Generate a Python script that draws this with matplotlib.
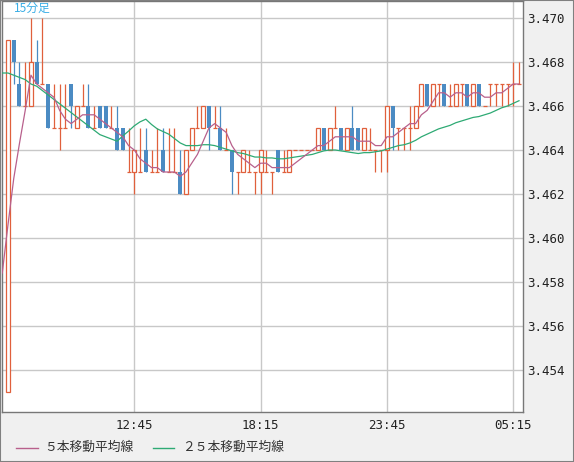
import numpy as np
import pandas as pd
import matplotlib
matplotlib.use('Agg')
import matplotlib.pyplot as plt
from matplotlib.lines import Line2D
from matplotlib.patches import Rectangle

# 15-minute bars, first bar 07:15
opens = [3.453, 3.469, 3.467, 3.466, 3.466, 3.468, 3.467, 3.467, 3.465, 3.465,
         3.465, 3.467, 3.465, 3.466, 3.466, 3.465, 3.466, 3.466, 3.465, 3.465,
         3.465, 3.463, 3.463, 3.463, 3.464, 3.463, 3.463, 3.464, 3.463, 3.463,
         3.463, 3.462, 3.464, 3.465, 3.465, 3.466, 3.465, 3.465, 3.464, 3.464,
         3.463, 3.463, 3.463, 3.463, 3.463, 3.463, 3.463, 3.464, 3.463, 3.463,
         3.464, 3.464, 3.464, 3.464, 3.464, 3.465, 3.464, 3.465, 3.465, 3.464,
         3.465, 3.465, 3.464, 3.464, 3.464, 3.464, 3.464, 3.466, 3.465, 3.465,
         3.465, 3.465, 3.466, 3.467, 3.466, 3.467, 3.467, 3.466, 3.466, 3.467,
         3.467, 3.466, 3.467, 3.466, 3.467, 3.467, 3.467, 3.467, 3.467, 3.467]
highs = [3.469, 3.469, 3.468, 3.468, 3.470, 3.469, 3.470, 3.467, 3.467, 3.467,
         3.467, 3.467, 3.466, 3.467, 3.467, 3.466, 3.466, 3.466, 3.466, 3.466,
         3.465, 3.465, 3.464, 3.465, 3.465, 3.464, 3.465, 3.465, 3.465, 3.465,
         3.464, 3.464, 3.465, 3.466, 3.466, 3.466, 3.466, 3.466, 3.465, 3.464,
         3.463, 3.464, 3.464, 3.463, 3.464, 3.464, 3.463, 3.464, 3.464, 3.464,
         3.464, 3.464, 3.464, 3.464, 3.465, 3.465, 3.465, 3.466, 3.465, 3.465,
         3.466, 3.465, 3.465, 3.465, 3.464, 3.464, 3.466, 3.466, 3.465, 3.465,
         3.466, 3.466, 3.467, 3.467, 3.467, 3.467, 3.467, 3.467, 3.467, 3.467,
         3.467, 3.467, 3.467, 3.466, 3.467, 3.467, 3.467, 3.467, 3.468, 3.468]
lows = [3.453, 3.467, 3.466, 3.466, 3.466, 3.467, 3.467, 3.465, 3.465, 3.464,
        3.465, 3.465, 3.465, 3.466, 3.465, 3.465, 3.465, 3.465, 3.465, 3.464,
        3.464, 3.463, 3.462, 3.463, 3.463, 3.463, 3.463, 3.463, 3.463, 3.463,
        3.462, 3.462, 3.464, 3.465, 3.465, 3.464, 3.465, 3.464, 3.464, 3.462,
        3.462, 3.463, 3.463, 3.462, 3.462, 3.463, 3.462, 3.463, 3.463, 3.463,
        3.464, 3.464, 3.464, 3.464, 3.464, 3.464, 3.464, 3.465, 3.464, 3.464,
        3.464, 3.464, 3.464, 3.464, 3.463, 3.463, 3.463, 3.464, 3.464, 3.464,
        3.464, 3.465, 3.466, 3.466, 3.466, 3.466, 3.466, 3.466, 3.466, 3.466,
        3.466, 3.466, 3.466, 3.466, 3.466, 3.466, 3.466, 3.466, 3.466, 3.467]
closes = [3.469, 3.468, 3.466, 3.466, 3.468, 3.467, 3.467, 3.465, 3.465, 3.465,
          3.465, 3.466, 3.466, 3.466, 3.465, 3.465, 3.465, 3.465, 3.465, 3.464,
          3.464, 3.463, 3.464, 3.463, 3.463, 3.463, 3.463, 3.463, 3.463, 3.463,
          3.462, 3.464, 3.465, 3.465, 3.466, 3.465, 3.465, 3.464, 3.464, 3.463,
          3.463, 3.464, 3.463, 3.463, 3.464, 3.463, 3.463, 3.463, 3.463, 3.464,
          3.464, 3.464, 3.464, 3.464, 3.465, 3.464, 3.465, 3.465, 3.464, 3.465,
          3.464, 3.464, 3.465, 3.464, 3.464, 3.464, 3.466, 3.465, 3.465, 3.465,
          3.465, 3.466, 3.467, 3.466, 3.467, 3.467, 3.466, 3.466, 3.467, 3.467,
          3.466, 3.467, 3.466, 3.466, 3.467, 3.467, 3.467, 3.467, 3.467, 3.467]
# closes before the first visible bar (only feed the moving averages)
prior_closes = [3.469, 3.4705, 3.4685, 3.4685, 3.473, 3.4695, 3.472, 3.470,
                3.470, 3.470, 3.470, 3.471, 3.471, 3.471, 3.470, 3.470, 3.470,
                3.4675, 3.4675, 3.4665, 3.458, 3.4575, 3.458, 3.4585, 3.460]

tick_labels = ['12:45', '18:15', '23:45', '05:15']
y_ticks = [3.454, 3.456, 3.458, 3.460, 3.462, 3.464, 3.466, 3.468, 3.470]

red = '#e0603c'
blue = '#4b8bc3'
ma5_color = '#b8608c'
ma25_color = '#2eaa74'

o = np.array(opens)
h = np.array(highs)
l = np.array(lows)
c = np.array(closes)
x = np.arange(1, len(c) + 1)
times = pd.date_range('2024-01-01 07:15', periods=len(c), freq='15min').strftime('%H:%M')

all_closes = pd.Series(prior_closes + closes,
                       index=np.arange(1 - len(prior_closes), len(c) + 1))
ma5 = all_closes.rolling(5).mean()
ma25 = all_closes.rolling(25).mean()

fig = plt.figure(figsize=(5.74, 4.62), dpi=100, facecolor='#f0f0f0')
ax = fig.add_axes([1.5 / 574, (462 - 412.3) / 462, 521.8 / 574, 411.3 / 462])
ax.set_facecolor('white')

up = c > o + 1e-9
down = c < o - 1e-9
flat = ~(up | down)
w = 0.7

wick_colors = [blue if d else red for d in down]
ax.vlines(x, l, h, colors=wick_colors, lw=0.9, zorder=2)
ax.bar(x[up], (c - o)[up], bottom=o[up], width=w, facecolor='white',
       edgecolor=red, lw=0.9, zorder=3)
ax.bar(x[down], (o - c)[down], bottom=c[down], width=w, color=blue,
       lw=0, zorder=3)
ax.hlines(c[flat], x[flat] - w / 2, x[flat] + w / 2, colors=red, lw=0.9, zorder=3)

ax.plot(ma25.index, ma25.values, color=ma25_color, lw=0.9, zorder=4)
ax.plot(ma5.index, ma5.values, color=ma5_color, lw=0.9, zorder=5)

ax.set_xlim(-0.13, 90.75)
ax.set_ylim(3.452077, 3.470773)

tick_pos = [x[list(times).index(t)] for t in tick_labels]
ax.set_xticks(tick_pos)
ax.set_xticklabels(tick_labels)
ax.set_yticks(y_ticks)
ax.set_yticklabels([f'{v:.3f}' for v in y_ticks])
ax.yaxis.tick_right()
ax.tick_params(axis='both', length=0, labelsize=9, colors='#222222')
ax.tick_params(axis='x', pad=5)
ax.tick_params(axis='y', pad=3)
for lab in ax.get_xticklabels() + ax.get_yticklabels():
    lab.set_family('DejaVu Sans Mono')
ax.grid(True, color='#c8c8c8', lw=1)
ax.set_axisbelow(True)
for s in ax.spines.values():
    s.set_color('#777777')
    s.set_linewidth(1)

fig.text(14 / 574, 1 - 2 / 462, '15分足', color='#3aaee6', fontsize=8.5,
         family=['Noto Sans CJK JP', 'DejaVu Sans'], va='top', ha='left')

# legend along the bottom
ly = 1 - 447.5 / 462
fig.add_artist(Line2D([16 / 574, 38 / 574], [ly, ly], color=ma5_color, lw=1))
fig.text(44 / 574, ly, '５本移動平均線', fontsize=9.2, color='#333333',
         family=['Noto Sans CJK JP', 'DejaVu Sans'], va='center', ha='left')
fig.add_artist(Line2D([153 / 574, 174 / 574], [ly, ly], color=ma25_color, lw=1))
fig.text(182 / 574, ly, '２５本移動平均線', fontsize=9.2, color='#333333',
         family=['Noto Sans CJK JP', 'DejaVu Sans'], va='center', ha='left')

fig.add_artist(Rectangle((0, 0), 1, 1, transform=fig.transFigure, fill=False,
                         edgecolor='#808080', lw=1.5))

fig.savefig('out.png', dpi=100, facecolor=fig.get_facecolor())
